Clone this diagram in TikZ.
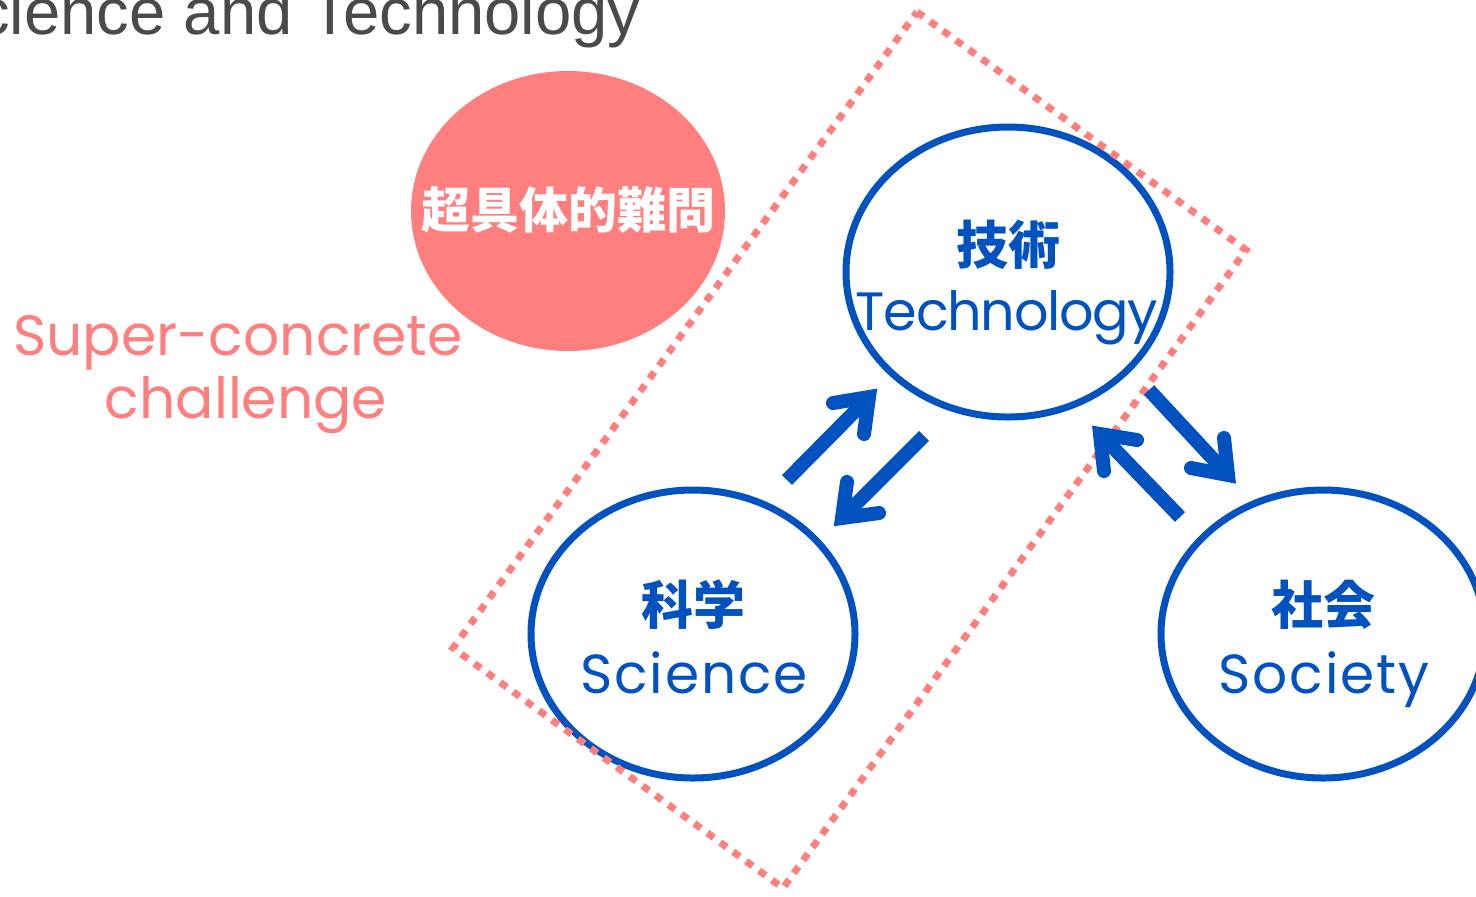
\documentclass[tikz,border=0pt]{standalone}
\usepackage{fontspec}
\setmainfont{Liberation Sans}
\newfontfamily\geo{Poppins}
\newfontfamily\geowide{Poppins}[LetterSpace=3.5]
\newfontfamily\geotech{Poppins}[LetterSpace=-2.4]
\newfontfamily\cjk{Noto Sans CJK JP}
\usetikzlibrary{calc}
\definecolor{bluec}{RGB}{0,82,192}
\definecolor{salmon}{RGB}{255,127,127}
\definecolor{titlegray}{RGB}{74,74,74}
\tikzset{
  circ/.style={draw=bluec, line width=3.5pt},
  shaft/.style={draw=bluec, line width=7pt, line cap=butt},
  barb/.style={draw=bluec, line width=7pt, line cap=round, line join=miter},
  jlabel/.style={text=bluec, font=\cjk\bfseries\fontsize{26pt}{28pt}\selectfont, anchor=center},
  elabel/.style={text=bluec, font=\geowide\fontsize{27.5pt}{30pt}\selectfont, anchor=base},
  tlabel/.style={text=bluec, font=\geotech\fontsize{27pt}{30pt}\selectfont, anchor=base},
  dotrect/.style={draw=salmon, line width=3.5pt, dash pattern=on 4pt off 4pt},
}
\begin{document}
\begin{tikzpicture}[x=0.5pt,y=-0.5pt]
\useasboundingbox (0,0) rectangle (1476,896);
% title
\node[anchor=base east, text=titlegray, font=\fontsize{32.6pt}{34pt}\selectfont, inner sep=0] (title) at (641,34) {Science and Technology};
% red ellipse
\fill[salmon] (568,211) ellipse [x radius=157, y radius=140];
\node[text=white, font=\cjk\bfseries\fontsize{24.5pt}{26pt}\selectfont] (q) at (568,210) {超具体的難問};
\node[text=salmon, font=\geo\fontsize{28.4pt}{30pt}\selectfont, anchor=base] (sc1) at (238,355) {Super-concrete};
\node[text=salmon, font=\geo\fontsize{28.4pt}{30pt}\selectfont, anchor=base] (sc2) at (246,418) {challenge};
% ellipses
\draw[circ] (1008,272) ellipse [x radius=162, y radius=145];
\draw[circ] (693,634) ellipse [x radius=162, y radius=144];
\draw[circ] (1323,634) ellipse [x radius=162, y radius=144];
% dotted rectangle
\coordinate (rT) at (917,12);
\coordinate (rR) at (1246,250);
\coordinate (rB) at (783,888);
\coordinate (rL) at (453,648);
\draw[dotrect] (rT) -- (rR) -- (rB) -- (rL) -- cycle;
% labels
\node[jlabel] (tj) at (1008,245) {技術};
\node[tlabel] (te) at (1007,330) {Technology};
\node[jlabel] (sj) at (693,605) {科学};
\node[elabel] (se) at (694,693) {Science};
\node[jlabel] (oj) at (1323,605) {社会};
\node[elabel] (oe) at (1324,693) {Society};
% arrows
\coordinate (a1s) at (787,480); \coordinate (a1t) at (869,397);
\coordinate (a1p) at (833,403); \coordinate (a1q) at (864,434);
\draw[shaft] (a1s) -- ($(a1t)!0.05!(a1s)$);
\draw[barb] (a1p) -- (a1t) -- (a1q);
\coordinate (a2s) at (924,436); \coordinate (a2t) at (842,518);
\coordinate (a2p) at (847,482); \coordinate (a2q) at (879,513);
\draw[shaft] (a2s) -- ($(a2t)!0.05!(a2s)$);
\draw[barb] (a2p) -- (a2t) -- (a2q);
\coordinate (a3s) at (1149,390); \coordinate (a3t) at (1228,475);
\coordinate (a3p) at (1224,438); \coordinate (a3q) at (1191,468);
\draw[shaft] (a3s) -- ($(a3t)!0.05!(a3s)$);
\draw[barb] (a3p) -- (a3t) -- (a3q);
\coordinate (a4s) at (1180,517); \coordinate (a4t) at (1100,434);
\coordinate (a4p) at (1137,440); \coordinate (a4q) at (1104,471);
\draw[shaft] (a4s) -- ($(a4t)!0.05!(a4s)$);
\draw[barb] (a4p) -- (a4t) -- (a4q);
\end{tikzpicture}
\end{document}
